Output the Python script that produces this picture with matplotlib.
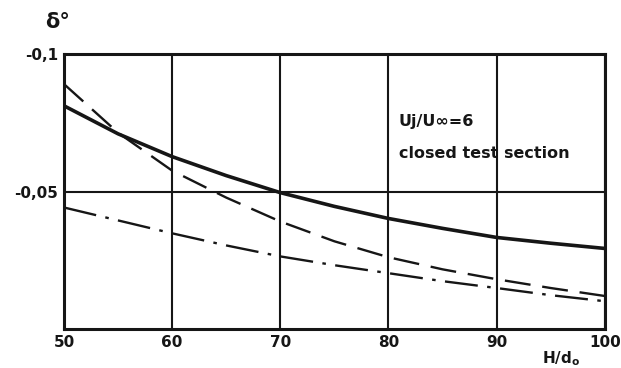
import matplotlib
matplotlib.use("Agg")
import matplotlib.pyplot as plt

# H/d0 positions and delta values
h_d = [50, 55, 60, 65, 70, 75, 80, 85, 90, 95, 100]
delta_solid = [-0.0812, -0.0710, -0.0627, -0.0558, -0.0496, -0.0446,
               -0.0402, -0.0366, -0.0333, -0.0312, -0.0293]
delta_dashed = [-0.0891, -0.0714, -0.0576, -0.0478, -0.0391, -0.0319,
                -0.0261, -0.0217, -0.0181, -0.0149, -0.0120]
delta_dashdot = [-0.0442, -0.0395, -0.0348, -0.0304, -0.0264, -0.0232,
                 -0.0203, -0.0174, -0.0149, -0.0123, -0.0101]

x_ticks = [50, 60, 70, 80, 90, 100]
y_ticks = [-0.1, -0.05]
y_tick_labels = ["-0,1", "-0,05"]

INK = "#161616"
FONT = dict(family="DejaVu Sans", fontweight="bold", color=INK)

fig = plt.figure(figsize=(6.21, 3.68), dpi=100)
ax = fig.add_axes([0.103, 0.106, 0.871, 0.747])

ax.plot(h_d, delta_solid, color=INK, lw=2.6, solid_capstyle="round", solid_joinstyle="round")
ax.plot(h_d, delta_dashed, color=INK, lw=1.7, dashes=(11, 5))
ax.plot(h_d, delta_dashdot, color=INK, lw=1.7, dashes=(14, 4, 1.5, 4))

ax.set_xlim(50, 100)
ax.set_ylim(0, -0.1)
ax.set_xticks(x_ticks)
ax.set_xticklabels([str(v) for v in x_ticks], fontsize=11, **FONT)
ax.set_yticks(y_ticks)
ax.set_yticklabels(y_tick_labels, fontsize=11, **FONT)
ax.tick_params(length=0, pad=4)
ax.grid(color=INK, lw=1.5)
for s in ax.spines.values():
    s.set_linewidth(2.2)
    s.set_color(INK)

fig.text(0.092, 0.94, "δ°", fontsize=15, ha="center", va="center", **FONT)
fig.text(0.903, 0.025, "H/d$_\\mathbf{o}$", fontsize=11, ha="center", va="center", **FONT)
ax.text(0.618, 0.753, "Uj/U∞=6", transform=ax.transAxes, fontsize=11.5,
        ha="left", va="center", **FONT)
ax.text(0.62, 0.64, "closed test section", transform=ax.transAxes, fontsize=11.5,
        ha="left", va="center", **FONT)

fig.savefig("out.png", dpi=100, facecolor="white")
